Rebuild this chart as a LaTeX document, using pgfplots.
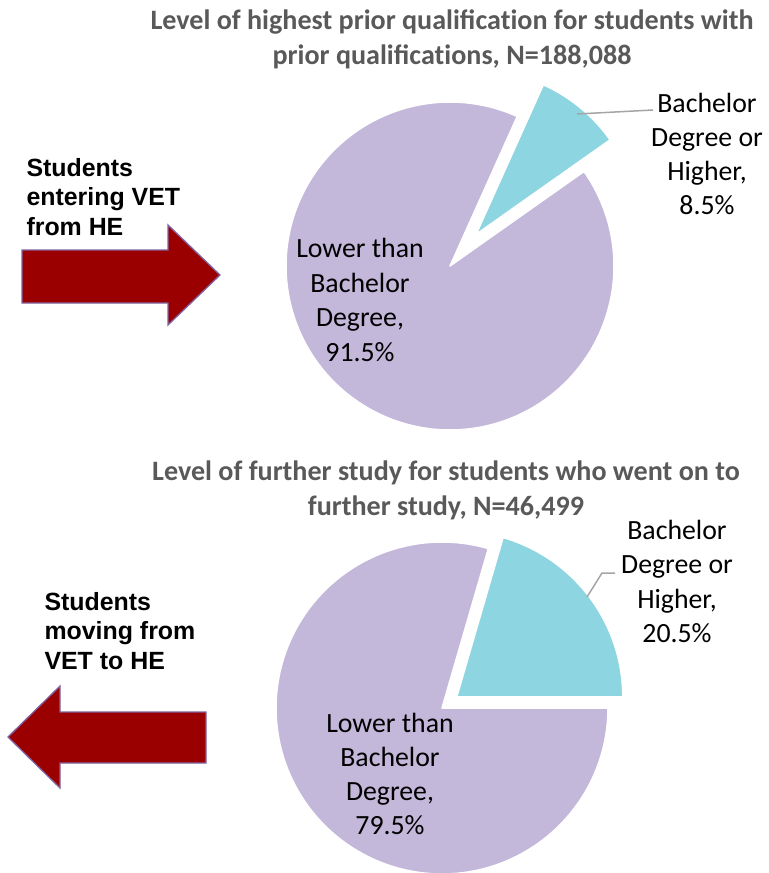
\documentclass[border=0pt]{standalone}
\usepackage{pgfplots}
\pgfplotsset{compat=1.18}
\usepackage{fontspec}
\setmainfont{Carlito}
\newfontfamily\arialfont{Liberation Sans}
\definecolor{lav}{RGB}{195,183,218}
\definecolor{cyanc}{RGB}{141,213,225}
\definecolor{titlegray}{RGB}{89,89,89}
\definecolor{arrred}{RGB}{155,0,0}
\definecolor{arrborder}{RGB}{128,100,162}
\definecolor{leader}{RGB}{165,165,165}
% data (percent)
\def\topHigher{8.5}
\def\topLower{91.5}
\def\botHigher{20.5}
\def\botLower{79.5}
\begin{document}
\begin{tikzpicture}
% top pie geometry
\pgfmathsetmacro\tA{35.2}
\pgfmathsetmacro\tB{\tA+3.6*\topHigher}
\pgfmathsetmacro\tC{\tB+3.6*\topLower}
\pgfmathsetmacro\tM{(\tA+\tB)/2}
\pgfmathsetmacro\tcx{450+41*cos(\tM)}
\pgfmathsetmacro\tcy{266-41*sin(\tM)}
% bottom pie geometry
\pgfmathsetmacro\bA{0}
\pgfmathsetmacro\bB{\bA+3.6*\botHigher}
\pgfmathsetmacro\bC{\bB+3.6*\botLower}
\pgfmathsetmacro\bM{(\bA+\bB)/2}
\pgfmathsetmacro\bcx{442+18.5*cos(\bM)}
\pgfmathsetmacro\bcy{708-18.5*sin(\bM)}
\begin{axis}[
  width=769bp, height=873bp, scale only axis,
  xmin=0, xmax=769, ymin=0, ymax=873, y dir=reverse,
  hide axis, clip=true,
]
\coordinate (BL) at (axis cs:0,873);
\coordinate (TR) at (axis cs:769,0);
% top pie
\addplot[fill=lav, draw=white, line width=1.5bp, line join=round, domain=\tB:\tC, samples=160, variable=\t]
  ({450+164*cos(t)}, {266-164*sin(t)}) -- (axis cs:450,266) -- cycle;
\addplot[fill=cyanc, draw=white, line width=1.5bp, line join=round, domain=\tA:\tB, samples=40, variable=\t]
  ({\tcx+164*cos(t)}, {\tcy-164*sin(t)}) -- (axis cs:\tcx,\tcy) -- cycle;
% bottom pie
\addplot[fill=lav, draw=white, line width=1.5bp, line join=round, domain=\bB:\bC, samples=160, variable=\t]
  ({442+166*cos(t)}, {708-166*sin(t)}) -- (axis cs:442,708) -- cycle;
\addplot[fill=cyanc, draw=white, line width=1.5bp, line join=round, domain=\bA:\bB, samples=60, variable=\t]
  ({\bcx+166*cos(t)}, {\bcy-166*sin(t)}) -- (axis cs:\bcx,\bcy) -- cycle;
% leader lines
\draw[leader, line width=1.5bp] (axis cs:577,114) -- (axis cs:653,110);
\draw[leader, line width=1.5bp] (axis cs:587,597) -- (axis cs:602,573) -- (axis cs:615,573);
% arrows
\draw[fill=arrred, draw=arrborder, line width=1.3bp]
  (axis cs:22,250) -- (axis cs:168,250) -- (axis cs:168,225) -- (axis cs:220,275)
  -- (axis cs:168,325) -- (axis cs:168,303) -- (axis cs:22,303) -- cycle;
\draw[fill=arrred, draw=arrborder, line width=1.3bp]
  (axis cs:206,712) -- (axis cs:60,712) -- (axis cs:60,686) -- (axis cs:8,737)
  -- (axis cs:60,788) -- (axis cs:60,763) -- (axis cs:206,763) -- cycle;
% titles
\node[align=center, text=titlegray, font=\fontsize{28.2}{35}\selectfont\bfseries] at (axis cs:452,39.5)
  {Level of highest prior qualificat\kern0pt ion for students with\\prior qualificat\kern0pt ions, N=188,088};
\node[align=center, text=titlegray, font=\fontsize{28.2}{35}\selectfont\bfseries] at (axis cs:446,490)
  {Level of further study for students who went on to\\further study, N=46,499};
% slice labels
\node[align=center, font=\fontsize{27.9}{34.5}\selectfont] at (axis cs:360,300)
  {Lower than\\Bachelor\\Degree,\\91.5\%};
\node[align=center, font=\fontsize{27.9}{34.3}\selectfont] at (axis cs:707,154)
  {Bachelor\\Degree or\\Higher,\\8.5\%};
\node[align=center, font=\fontsize{27.9}{34.3}\selectfont] at (axis cs:390,774)
  {Lower than\\Bachelor\\Degree,\\79.5\%};
\node[align=center, font=\fontsize{27.9}{34.3}\selectfont] at (axis cs:677,581.5)
  {Bachelor\\Degree or\\Higher,\\20.5\%};
% arrow labels
\node[align=left, anchor=west, font=\arialfont\bfseries\fontsize{25}{29.5}\selectfont] at (axis cs:23,197)
  {Students\\entering VET\\from HE};
\node[align=left, anchor=west, font=\arialfont\bfseries\fontsize{25}{29.5}\selectfont] at (axis cs:41,631)
  {Students\\moving from\\VET to HE};
\end{axis}
\pgfresetboundingbox
\path[use as bounding box] (BL) rectangle (TR);
\end{tikzpicture}
\end{document}
